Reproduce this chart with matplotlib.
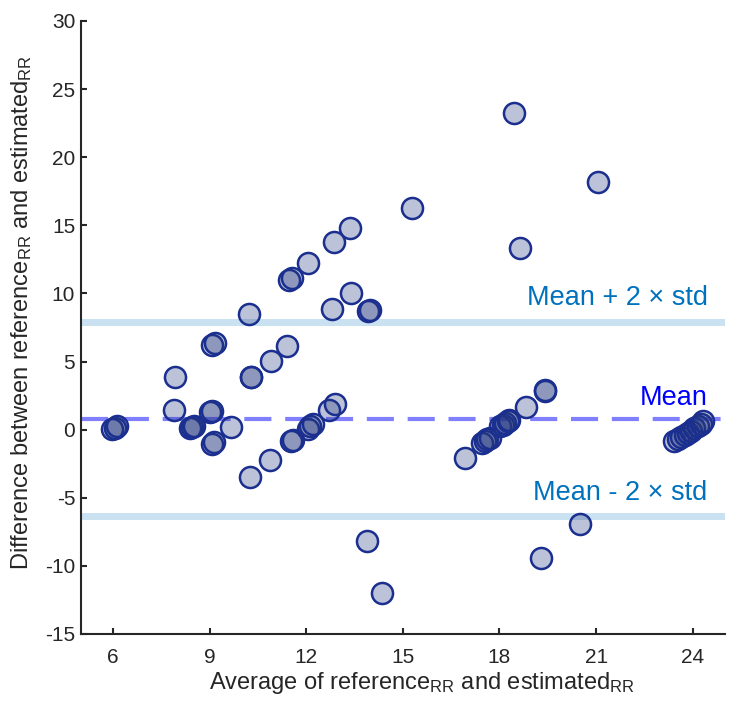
import matplotlib
matplotlib.use("Agg")
import matplotlib.pyplot as plt

plt.rcParams['font.family'] = ['Liberation Sans', 'DejaVu Sans']
plt.rcParams['mathtext.fontset'] = 'custom'
plt.rcParams['mathtext.rm'] = 'Liberation Sans'
plt.rcParams['mathtext.it'] = 'Liberation Sans'
plt.rcParams['axes.unicode_minus'] = False

# Bland-Altman data: average vs difference (reference RR vs estimated RR)
avg = [5.98, 6.05, 6.12,
       7.92, 7.89,
       8.40, 8.46, 8.52,
       9.02, 9.08, 9.07, 9.13, 9.08, 9.18,
       9.65, 10.21, 10.30, 10.30, 10.92, 11.40,
       10.89, 10.27, 11.52, 11.58,
       12.05, 12.12, 12.20, 12.70, 12.90,
       11.47, 11.56, 12.07, 12.85, 13.37, 15.28,
       12.80, 13.39, 13.92, 13.98,
       13.89, 14.35,
       16.93, 17.45, 17.55, 17.62, 17.70,
       18.01, 18.10, 18.18, 18.26, 18.30,
       18.82, 19.40, 19.42,
       18.45, 21.05, 18.63, 20.49, 19.28,
       23.43, 23.55, 23.65, 23.76, 23.86, 23.95, 24.05, 24.15, 24.25, 24.31]
diff = [0.05, 0.15, 0.28,
        3.87, 1.47,
        0.10, 0.20, 0.30,
        1.30, 1.40, -1.05, -0.92, 6.20, 6.35,
        0.17, 8.49, 3.84, 3.84, 5.06, 6.11,
        -2.20, -3.47, -0.82, -0.74,
        0.08, 0.25, 0.45, 1.42, 1.89,
        10.98, 11.12, 12.23, 13.74, 14.80, 16.26,
        8.85, 10.03, 8.70, 8.78,
        -8.14, -11.96,
        -2.08, -0.98, -0.85, -0.72, -0.60,
        0.24, 0.35, 0.50, 0.65, 0.70,
        1.66, 2.84, 2.88,
        23.26, 18.20, 13.35, -6.90, -9.39,
        -0.86, -0.72, -0.55, -0.40, -0.25, -0.10, 0.10, 0.28, 0.45, 0.61]

mean_diff = 0.77
upper_loa = 7.90
lower_loa = -6.36

fig = plt.figure(figsize=(7.42, 7.11), dpi=100)
ax = fig.add_axes([0.1088, 0.1083, 0.977 - 0.1088, 0.9705 - 0.1083])

ax.axhline(upper_loa, color='#c9e1f0', lw=5, zorder=1)
ax.axhline(lower_loa, color='#c9e1f0', lw=5, zorder=1)
ax.axhline(mean_diff, color='#8080ff', lw=3, ls=(0, (6.5, 3.3)), zorder=1)

ax.scatter(avg, diff, s=230, facecolor=(0.14, 0.22, 0.5, 0.3),
           edgecolor='#1a2f8f', linewidth=1.8, zorder=3)

# labels for the lines
ax.text(24.46, upper_loa + 1.27, 'Mean + 2 × std', color='#0072bd',
        fontsize=19.5, ha='right', va='baseline')
ax.text(24.46, mean_diff + 1.06, 'Mean', color='#0000ff',
        fontsize=19.5, ha='right', va='baseline')
ax.text(24.46, lower_loa + 1.22, 'Mean - 2 × std', color='#0072bd',
        fontsize=19.5, ha='right', va='baseline')

ax.set_xlim(5, 25)
ax.set_ylim(-15, 30)
ax.set_xticks(range(6, 25, 3))
ax.set_yticks(range(-15, 31, 5))
ax.tick_params(direction='in', length=4.5, width=1.5, labelsize=15,
               colors='#262626')
ax.tick_params(axis='y', pad=4)
ax.tick_params(axis='x', pad=10)
for side in ['top', 'right']:
    ax.spines[side].set_visible(False)
for side in ['left', 'bottom']:
    ax.spines[side].set_linewidth(1.5)
    ax.spines[side].set_color('#262626')

ax.set_xlabel('Average of reference$_{\\mathrm{RR}}$ and estimated$_{\\mathrm{RR}}$',
              fontsize=17, color='#262626')
ax.set_ylabel('Difference between reference$_{\\mathrm{RR}}$ and estimated$_{\\mathrm{RR}}$',
              fontsize=17, color='#262626')
ax.xaxis.set_label_coords(0.53, -0.058)
ax.yaxis.set_label_coords(-0.073, 0.525)

fig.savefig('out.png', dpi=100)
